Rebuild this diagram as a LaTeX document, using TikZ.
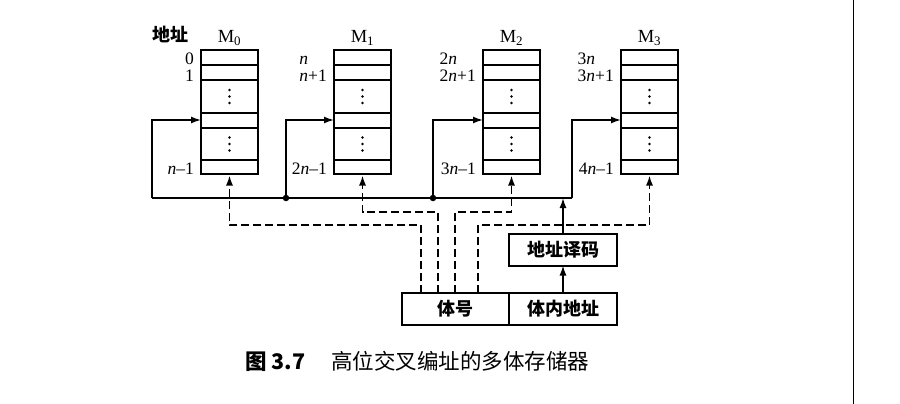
\documentclass[tikz,border=0pt]{standalone}
\usepackage{fontspec}
\setmainfont{Liberation Serif}
\newfontfamily\cjkfont{Noto Sans CJK SC}
\usetikzlibrary{arrows.meta,calc,positioning}
\tikzset{
  busline/.style={line width=1.6pt},
  busarrow/.style={busline, -{Latex[length=10pt,width=7pt]}},
  busdash/.style={busarrow, dash pattern=on 8pt off 4pt, shorten >=1.5pt},
  busdot/.style={circle, fill, inner sep=0pt, minimum size=6.5pt},
  bankbox/.style={draw, line width=2pt, minimum width=57pt,
    minimum height=124pt, inner sep=0pt, outer sep=0pt, anchor=north west},
  rowline/.style={line width=2pt},
  addrlbl/.style={inner sep=0pt, font=\fontsize{17.5}{17.5}\selectfont},
  ctrlbox/.style={draw, line width=2pt, inner sep=0pt, outer sep=0pt,
    minimum width=107pt, minimum height=31.5pt,
    font=\cjkfont\bfseries\fontsize{18}{18}\selectfont}
}

\begin{document}
\begin{tikzpicture}[x=1pt,y=-1pt]
  \useasboundingbox (0,0) rectangle (900,404);

  \foreach \i/\x in {0/201,1/334,2/483,3/621} {
    \node[bankbox] (m\i) at (\x,50) {};
    \foreach \dy in {15.5,30,63,78,110}
      \draw[rowline] ($(m\i.north west)+(0,\dy)$) -- ($(m\i.north east)+(0,\dy)$);
    \foreach \dy in {46.5,94}
      \foreach \dd in {-6.5,0,6.5}
        \fill ($(m\i.north)+(0,\dy)+(0,\dd)$) circle (1.4pt);
    \node[addrlbl, anchor=base, font=\fontsize{18.5}{18.5}\selectfont] (t\i)
      at ($(m\i.north)+(0,-7.5)$) {M\textsubscript{\i}};
    \coordinate (m\i-in) at ($(m\i.north west)+(0,70)$);
  }
  \foreach \i/\ta/\tb/\tc in {0/{0}/{1}/{\textit{n}--1},
      1/{\textit{n}}/{\textit{n}+1}/{2\textit{n}--1},
      2/{2\textit{n}}/{2\textit{n}+1}/{3\textit{n}--1},
      3/{3\textit{n}}/{3\textit{n}+1}/{4\textit{n}--1}} {
    \node[addrlbl, anchor=base east] (b\i) at ($(m\i.north west)+(-7,31.5)$) {\tb};
    \node[addrlbl, anchor=base west] (a\i) at ($(b\i.base west)+(0,-16.5)$) {\ta};
    \node[addrlbl, anchor=base east] (c\i) at ($(m\i.north west)+(-7,124.5)$) {\tc};
  }
  \node[inner sep=0pt, font=\cjkfont\bfseries\fontsize{18}{18}\selectfont]
    (addrhead) at (170.5,34.5) {地址};

  \coordinate (busl) at (152,198);
  \coordinate (busr) at (572,198);
  \node[busdot] (j1) at (286,198) {};
  \node[busdot] (j2) at (433,198) {};
  \draw[busline] (busl) -- (busr);
  \draw[busarrow] (busl) |- (m0-in);
  \draw[busarrow] (j1.center) |- (m1-in);
  \draw[busarrow] (j2.center) |- (m2-in);
  \draw[busarrow] (busr) |- (m3-in);

  \node[ctrlbox, anchor=north west] (bankno) at (402,293) {体号};
  \node[ctrlbox, anchor=west, minimum width=108pt] (inaddr) at (bankno.east)
    {体内地址};
  \node[ctrlbox, above=27.5pt of inaddr, minimum width=108pt,
    minimum height=32pt] (decoder) {地址译码};
  \draw[busarrow] (inaddr.north) -- (decoder.south);
  \draw[busarrow] (decoder.north) -- (decoder.north |- busr);

  \coordinate (lvla) at (0,225);
  \coordinate (lvlb) at (0,212);
  \foreach \i/\dx/\lvl in {0/19/lvla,1/36/lvlb,2/53/lvlb,3/76/lvla} {
    \coordinate (s\i) at ($(bankno.north west)+(\dx,0)$);
    \draw[busdash] (s\i) |- (m\i.south |- \lvl) -- (m\i.south);
  }

  \node[anchor=west, inner sep=0pt, font=\cjkfont\fontsize{21.5}{21.5}\selectfont]
    (caption) at (245,361) {{\bfseries 图 3.7}\hspace{26pt}高位交叉编址的多体存储器};
  \draw[line width=1pt] (853,0) -- (853,404);
\end{tikzpicture}
\end{document}
